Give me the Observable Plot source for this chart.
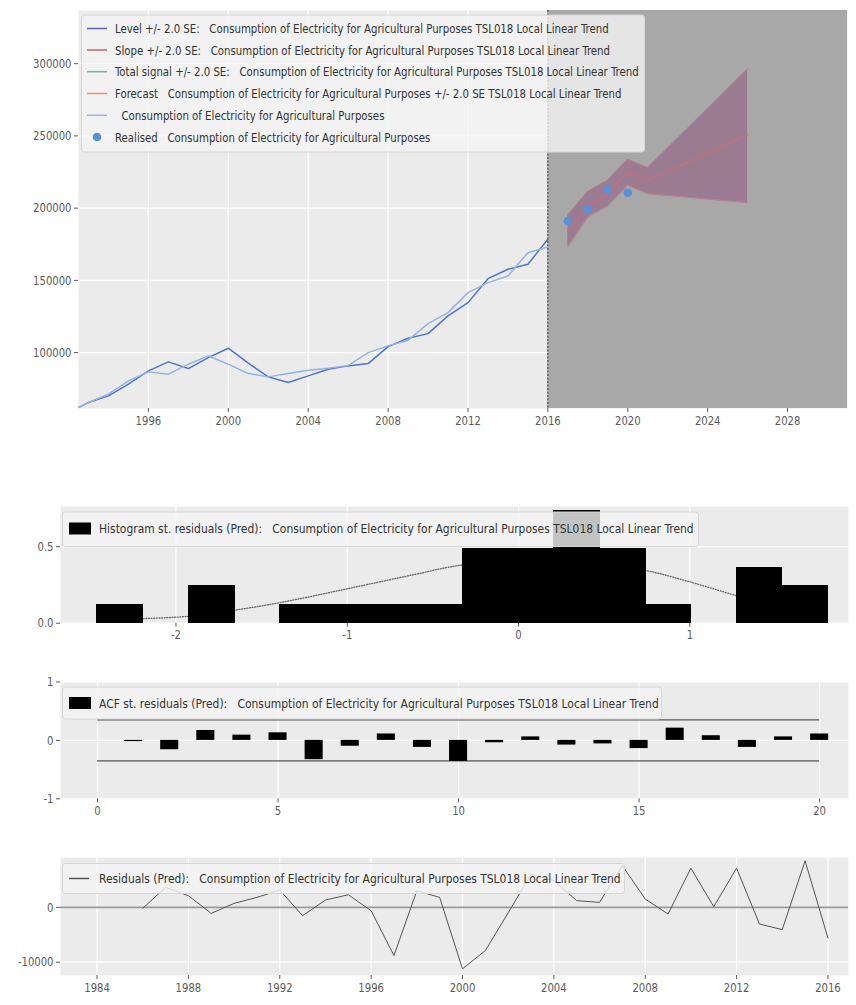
<!DOCTYPE html>
<html><head><meta charset="utf-8">
<script src="https://cdn.jsdelivr.net/npm/d3@7"></script>
<script src="https://cdn.jsdelivr.net/npm/@observablehq/plot@0.6"></script>
<style>
body{margin:0;background:#fff;}
#wrap{position:relative;width:856px;height:1005px;overflow:hidden;}
.panel{position:absolute;left:0;}
#overlay{position:absolute;left:0;top:0;pointer-events:none;}
</style></head><body><div id="wrap"></div>
<script>
// ---------- DATA ----------
const years = [1992,1993,1994,1995,1996,1997,1998,1999,2000,2001,2002,2003,2004,2005,2006,2007,2008,2009,2010,2011,2012,2013,2014,2015,2016];
const consumption = [58500,65420,70050,78150,87340,93570,88930,96540,103040,92670,83190,79250,83890,88520,90800,92390,104150,109960,113140,125380,134580,151180,157680,161140,178430];
const levelSmooth = [58500,65420,71230,80430,86650,85060,91970,97720,91970,85480,83190,85480,87830,89210,91010,100000,104630,108580,120060,127670,141500,148420,153050,169160,173100];

const forecastYears = [2017,2018,2019,2020,2021,2026];
const forecastMid = [184170,201460,209550,225180,219230,250840];
const forecastLo  = [173100,193850,201460,215770,209960,203740];
const forecastHi  = [195230,211490,219230,233750,227930,296200];

const realisedYears = [2017,2018,2019,2020];
const realisedValues = [191090,199180,213010,210660];

const forecastStart = 2016;

const histEdges = [-2.458,-2.191,-1.925,-1.658,-1.392,-1.125,-0.859,-0.592,-0.325,-0.059,0.208,0.474,0.741,1.007,1.274,1.540,1.807];
const histDensity = [0.121,0,0.241,0,0.121,0.121,0.121,0.121,0.483,0.483,0.735,0.483,0.121,0,0.362,0.241];
const curveX = [-2.19,-1.93,-1.66,-1.39,-1.0,-0.6,-0.33,0.1,0.45,0.74,1.0,1.27];
const curveY = [0.03,0.045,0.085,0.135,0.225,0.32,0.38,0.40,0.385,0.345,0.27,0.18];

const acfLags = [1,2,3,4,5,6,7,8,9,10,11,12,13,14,15,16,17,18,19,20];
const acfValues = [-0.02,-0.16,0.17,0.09,0.13,-0.33,-0.10,0.11,-0.12,-0.36,-0.04,0.06,-0.08,-0.06,-0.14,0.21,0.08,-0.12,0.06,0.11];
const acfBand = 0.35;

const residYears = [1986,1987,1988,1989,1990,1991,1992,1993,1994,1995,1996,1997,1998,1999,2000,2001,2002,2003,2004,2005,2006,2007,2008,2009,2010,2011,2012,2013,2014,2015,2016];
const residValues = [-180,3640,2120,-1090,730,1820,3150,-1520,1330,2300,-610,-8790,3030,1820,-11210,-7880,-1000,6000,4900,1220,910,7580,1520,-1210,7150,120,7150,-3030,-4060,8480,-5580];

const xTicks1 = [1996,2000,2004,2008,2012,2016,2020,2024,2028];
const yTicks1 = [100000,150000,200000,250000,300000];
const xTicksHist = [-2,-1,0,1];
const yTicksHist = [0,0.5];
const xTicksAcf = [0,5,10,15,20];
const yTicksAcf = [-1,0,1];
const xTicksRes = [1984,1988,1992,1996,2000,2004,2008,2012,2016];
const yTicksRes = [-10000,0];

const SERIES = "Consumption of Electricity for Agricultural Purposes";
const MODEL = "TSL018 Local Linear Trend";

// ---------- BUILD ----------
const FONT = '"DejaVu Sans Condensed","DejaVu Sans",sans-serif';
const wrap = document.getElementById("wrap");
const hyph = d => String(d).replace("\u2212","-");
const baseStyle = {fontFamily: FONT, fontSize: "13px", color: "#5a5a5a", background: "transparent", overflow: "visible"};
const BG = "#ebebeb";
const grid = {stroke: "white", strokeOpacity: 1, strokeWidth: 1.2};

function squeeze(node, k) {
  d3.select(node).selectAll("text").each(function() {
    const w = this.getComputedTextLength();
    if (w > 0) { this.setAttribute("textLength", (w * k).toFixed(2)); this.setAttribute("lengthAdjust", "spacingAndGlyphs"); }
  });
}
function place(svg, top) {
  const d = document.createElement("div");
  d.className = "panel"; d.style.top = top + "px";
  d.appendChild(svg); wrap.appendChild(d);
  squeeze(svg, 0.86);
}

const hist = years.map((y,i) => ({year: y, cons: consumption[i], level: levelSmooth[i]}));
const fc = forecastYears.map((y,i) => ({year: y, mid: forecastMid[i], lo: forecastLo[i], hi: forecastHi[i]}));
const real = realisedYears.map((y,i) => ({year: y, v: realisedValues[i]}));
const xDom1 = [1992.5, 2031], yDom1 = [61300, 336800];

place(Plot.plot({
  width: 856, height: 432, marginLeft: 78, marginRight: 9, marginTop: 10, marginBottom: 24,
  style: baseStyle,
  x: {domain: xDom1, label: null}, y: {domain: yDom1, label: null},
  marks: [
    Plot.frame({fill: BG}),
    Plot.gridX(xTicks1, grid),
    Plot.gridY(yTicks1, grid),
    Plot.rect([forecastStart], {x1: d => d, x2: () => xDom1[1], y1: () => yDom1[0], y2: () => yDom1[1], fill: "#a8a8a8"}),
    Plot.ruleX([forecastStart], {stroke: "#333", strokeDasharray: "2,1.5", strokeWidth: 1}),
    Plot.areaY(fc, {x: "year", y1: "lo", y2: "hi", fill: "#9b7b92"}),
    Plot.line(fc, {x: "year", y: "lo", stroke: "#bb7a86", strokeWidth: 1}),
    Plot.line(fc, {x: "year", y: "hi", stroke: "#bb7a86", strokeWidth: 1}),
    Plot.line(fc, {x: "year", y: "mid", stroke: "#c4707c", strokeWidth: 1.3}),
    Plot.line(hist, {x: "year", y: "cons", stroke: "#4f74c9", strokeWidth: 1.5, clip: true}),
    Plot.line(hist, {x: "year", y: "level", stroke: "#93b3e8", strokeWidth: 1.5, clip: true}),
    Plot.dot(real, {x: "year", y: "v", r: 4.3, fill: "#5b8fd9", stroke: null}),
    Plot.axisX({ticks: xTicks1, tickFormat: d => String(d), tickSize: 4, tickPadding: 3, label: null}),
    Plot.axisY({ticks: yTicks1, tickFormat: d => String(d), tickSize: 4, tickPadding: 3, label: null})
  ]
}), 0);

const bins = histDensity.map((v,i) => ({x1: histEdges[i], x2: histEdges[i+1], v}));
const curve = curveX.map((x,i) => ({x, y: curveY[i]}));
place(Plot.plot({
  width: 856, height: 165, marginLeft: 60, marginRight: 8, marginTop: 16, marginBottom: 32.3,
  style: baseStyle,
  x: {domain: [-2.674, 1.926], label: null}, y: {domain: [0, 0.763], label: null},
  marks: [
    Plot.frame({fill: BG}),
    Plot.gridX(xTicksHist, grid),
    Plot.gridY(yTicksHist, grid),
    Plot.line(curve, {x: "x", y: "y", stroke: "#666", strokeWidth: 1.3, strokeDasharray: "1,1.6", curve: "catmull-rom"}),
    Plot.rectY(bins.filter(b => b.v > 0), {x1: "x1", x2: "x2", y1: () => 0, y2: "v", fill: "black", stroke: "black", strokeWidth: 1.2, insetLeft: 0, insetRight: 0, shapeRendering: "crispEdges"}),
    Plot.axisX({ticks: xTicksHist, tickFormat: hyph, tickSize: 4, tickPadding: 3, label: null}),
    Plot.axisY({ticks: yTicksHist, tickFormat: d3.format(".1f"), tickSize: 4, tickPadding: 3, label: null})
  ]
}), 490);

const acf = acfLags.map((l,i) => ({l, v: acfValues[i]}));
place(Plot.plot({
  width: 856, height: 165, marginLeft: 60, marginRight: 8, marginTop: 16.5, marginBottom: 31.7,
  style: baseStyle,
  x: {domain: [-1.025, 20.8], label: null}, y: {domain: [-1, 1], label: null},
  marks: [
    Plot.frame({fill: BG}),
    Plot.gridX(xTicksAcf, grid),
    Plot.gridY(yTicksAcf, grid),
    Plot.ruleY([acfBand, -acfBand], {x1: () => 0, x2: () => acfLags[acfLags.length-1], stroke: "#555", strokeWidth: 1.3}),
    Plot.rect(acf, {x1: d => d.l - 0.25, x2: d => d.l + 0.25, y1: () => 0, y2: "v", fill: "black"}),
    Plot.axisX({ticks: xTicksAcf, tickFormat: d => String(d), tickSize: 4, tickPadding: 3, label: null}),
    Plot.axisY({ticks: yTicksAcf, tickFormat: hyph, tickSize: 4, tickPadding: 3, label: null})
  ]
}), 665);

const res = residYears.map((y,i) => ({y, v: residValues[i]}));
place(Plot.plot({
  width: 856, height: 160, marginLeft: 60, marginRight: 8, marginTop: 12, marginBottom: 30,
  style: baseStyle,
  x: {domain: [1982.4, 2016.9], label: null}, y: {domain: [-12420, 9090], label: null},
  marks: [
    Plot.frame({fill: BG}),
    Plot.gridX(xTicksRes, grid),
    Plot.gridY(yTicksRes, grid),
    Plot.ruleY([0], {stroke: "#999", strokeWidth: 1.6}),
    Plot.line(res, {x: "y", y: "v", stroke: "#555", strokeWidth: 1}),
    Plot.axisX({ticks: xTicksRes, tickFormat: d => String(d), tickSize: 4, tickPadding: 3, label: null}),
    Plot.axisY({ticks: yTicksRes, tickFormat: d => String(d), tickSize: 4, tickPadding: 3, label: null})
  ]
}), 845);

// ---------- LEGENDS (overlay) ----------
const ov = d3.select(wrap).append("svg").attr("id","overlay").attr("width",856).attr("height",1005)
  .style("font-family", FONT).style("font-size","13px");
function legend(box, items, k) {
  ov.append("rect").attr("x",box.x).attr("y",box.y).attr("width",box.w).attr("height",box.h)
    .attr("rx",3).attr("fill","#f4f4f4").attr("fill-opacity",0.8).attr("stroke","#d6d6d6").attr("stroke-width",1);
  for (const it of items) {
    if (it.type === "line") ov.append("line").attr("x1",it.sx).attr("x2",it.sx+20).attr("y1",it.y).attr("y2",it.y).attr("stroke",it.color).attr("stroke-width",1.5);
    if (it.type === "rect") ov.append("rect").attr("x",it.sx).attr("y",it.y-6).attr("width",22).attr("height",12).attr("fill",it.color);
    if (it.type === "dot") ov.append("circle").attr("cx",it.sx+10).attr("cy",it.y).attr("r",4.3).attr("fill",it.color);
    const t = ov.append("text").attr("x",it.tx).attr("y",it.y).attr("dy","0.35em").attr("fill","#333")
      .style("white-space","pre").text(it.text);
    const w = t.node().getComputedTextLength();
    t.attr("textLength", (w * k).toFixed(2)).attr("lengthAdjust","spacingAndGlyphs");
  }
}
legend({x: 81.5, y: 15, w: 563, h: 137}, [
  {type:"line", color:"#5a5fb8", sx:87, tx:115, y:28.5, text:`Level +/- 2.0 SE:   ${SERIES} ${MODEL}`},
  {type:"line", color:"#c9626a", sx:87, tx:115, y:50, text:`Slope +/- 2.0 SE:   ${SERIES} ${MODEL}`},
  {type:"line", color:"#7bb3a8", sx:87, tx:115, y:71.7, text:`Total signal +/- 2.0 SE:   ${SERIES} ${MODEL}`},
  {type:"line", color:"#f0906c", sx:87, tx:115, y:93.5, text:`Forecast   ${SERIES} +/- 2.0 SE ${MODEL}`},
  {type:"line", color:"#92b2ea", sx:87, tx:115, y:115.3, text:`  ${SERIES}`},
  {type:"dot", color:"#5b8fd9", sx:87, tx:115, y:137, text:`Realised   ${SERIES}`}
], 0.87);
legend({x: 62.5, y: 512, w: 636, h: 34.5}, [
  {type:"rect", color:"black", sx:69, tx:99, y:528.5, text:`Histogram st. residuals (Pred):   ${SERIES} ${MODEL}`}
], 0.918);
legend({x: 62.5, y: 687, w: 599, h: 32}, [
  {type:"rect", color:"black", sx:69, tx:99, y:703, text:`ACF st. residuals (Pred):   ${SERIES} ${MODEL}`}
], 0.918);
legend({x: 62.5, y: 863.5, w: 562, h: 30}, [
  {type:"line", color:"#555", sx:69, tx:99, y:878.5, text:`Residuals (Pred):   ${SERIES} ${MODEL}`}
], 0.918);
</script></body></html>
